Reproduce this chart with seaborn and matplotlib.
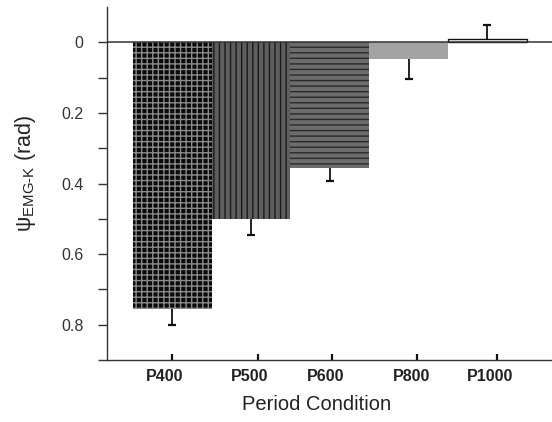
import numpy as np
import pandas as pd
import matplotlib
matplotlib.use("Agg")
import matplotlib.pyplot as plt
import seaborn as sns
from matplotlib.ticker import FixedLocator, NullFormatter

# ---- data ----
categories = ["P400", "P500", "P600", "P800", "P1000"]
values = [0.755, 0.500, 0.355, 0.048, -0.0085]
err_down = [0.045, 0.045, 0.038, 0.056, 0.0]   # towards larger values (drawn downward)
err_up = [0.0, 0.0, 0.0, 0.0, 0.040]          # towards smaller values (drawn upward)
y_major = [0.0, 0.2, 0.4, 0.6, 0.8]
y_minor = [0.1, 0.3, 0.5, 0.7, 0.9]

# ---- styling ----
face_colors = ["#0a0a0a", "#5e5e5e", "#6c6c6c", "#a3a3a3", "#ffffff"]
hatch_colors = ["#8a8a8a", "#1a1a1a", "#2a2a2a", "#a3a3a3", "#111111"]
hatches = ["+++", "|||", "---", "", ""]
label_shift = [-0.10, -0.02, -0.06, 0.04, 0.04]
tick_shift = [0.0, 0.09, 0.03, 0.11, 0.12]

sns.set_theme(style="white")
plt.rcParams["font.family"] = ["Liberation Sans", "DejaVu Sans"]
plt.rcParams["mathtext.fontset"] = "custom"
plt.rcParams["mathtext.rm"] = "Liberation Sans"
plt.rcParams["mathtext.it"] = "Liberation Sans:italic"
plt.rcParams["hatch.linewidth"] = 1.0

fig = plt.figure(figsize=(5.52, 4.22), dpi=100)
ax = fig.add_axes([0.1933, 0.1469, 0.8067, 0.8365])

df = pd.DataFrame({"cond": categories, "val": values})
sns.barplot(data=df, x="cond", y="val", hue="cond", palette=face_colors,
            width=1.0, legend=False, ax=ax, saturation=1, zorder=2)

for i, p in enumerate(ax.patches):
    p.set_facecolor(face_colors[i])
    p.set_edgecolor(hatch_colors[i])
    if hatches[i]:
        p.set_hatch(hatches[i])
        p.set_linewidth(0)
    else:
        p.set_linewidth(1.0 if i == 4 else 0)

x = np.arange(len(categories))
vals = np.array(values)
lo = np.array(err_up)
hi = np.array(err_down)
eb = ax.errorbar(x, vals, yerr=[lo, hi], fmt="none", ecolor="#111111",
                 elinewidth=1.3, capsize=3.2, capthick=1.6, zorder=1)
for cl in eb[1]:
    yd = np.asarray(cl.get_ydata())
    if np.allclose(yd, vals - lo):
        idx = [i for i in range(len(x)) if lo[i] > 0]
    else:
        idx = [i for i in range(len(x)) if hi[i] > 0]
    cl.set_markevery(idx)

ax.axhline(0, color="#333333", lw=1.1, zorder=3)

ax.set_xlim(-0.834, 4.821)
ax.set_ylim(0.9, -0.1)

# y ticks
ax.yaxis.set_major_locator(FixedLocator(y_major))
ax.set_yticklabels(["0", "0.2", "0.4", "0.6", "0.8"])
ax.yaxis.set_minor_locator(FixedLocator(y_minor))
ax.yaxis.set_minor_formatter(NullFormatter())
ax.tick_params(axis="y", which="both", direction="out", length=6.3, width=1.0,
               color="#333333", left=True)
ax.tick_params(axis="y", which="major", labelsize=11.5, labelcolor="#333333", pad=10.5)

# x ticks: labels at major positions (no marks), marks at minor positions
ax.xaxis.set_major_locator(FixedLocator(list(x + np.array(label_shift))))
ax.set_xticklabels(categories, fontweight="bold")
ax.xaxis.set_minor_locator(FixedLocator(list(x + np.array(tick_shift))))
ax.xaxis.set_minor_formatter(NullFormatter())
ax.tick_params(axis="x", which="major", length=0, labelsize=11.5,
               labelcolor="#222222", pad=6.5, bottom=True)
ax.tick_params(axis="x", which="minor", direction="in", length=4.5, width=1.6,
               color="#111111", bottom=True)

for s in ["top", "right"]:
    ax.spines[s].set_visible(False)
for s in ["left", "bottom"]:
    ax.spines[s].set_color("#333333")
    ax.spines[s].set_linewidth(1.0)

ax.set_xlabel("Period Condition", fontsize=14.5, color="#222222")
ax.xaxis.set_label_coords(0.472, -0.098)
ax.set_ylabel("ψ$_{\\mathrm{EMG‐K}}$ (rad)", fontsize=15.5, color="#222222")
ax.yaxis.set_label_coords(-0.154, 0.53)

ax.grid(False)
fig.savefig("out.png", dpi=100)
